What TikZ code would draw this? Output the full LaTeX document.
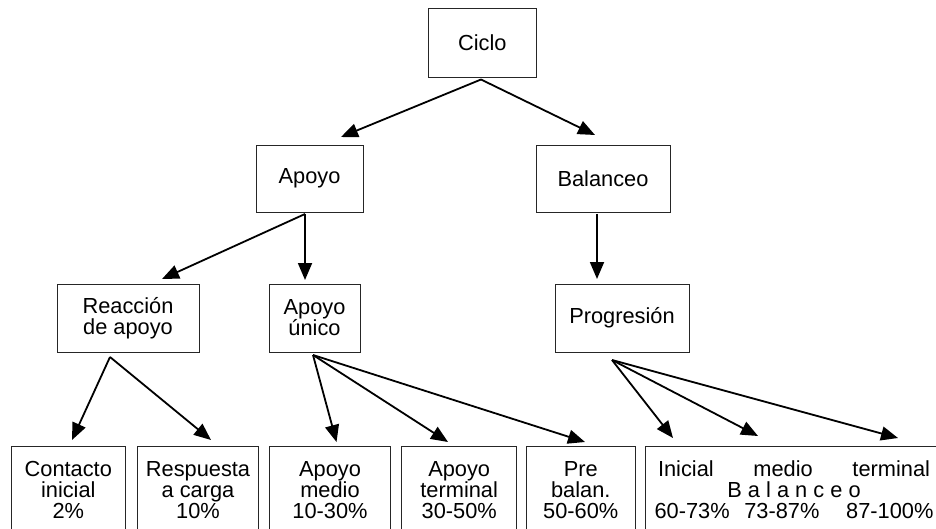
\documentclass[tikz,border=0pt]{standalone}
\usepackage{fontspec}
\setmainfont{Liberation Sans}
\usetikzlibrary{arrows.meta}
\tikzset{
  box/.style={draw=black!85, line width=0.8pt, inner sep=0pt, align=center,
    font=\fontsize{21.8}{21}\selectfont},
  conn/.style={line width=1.8pt, -{Triangle[length=17pt,width=14pt]}},
}
\begin{document}
\begin{tikzpicture}[x=1pt,y=-1pt]
\useasboundingbox (0,0) rectangle (936,529);
% level 0-2
\node[box, minimum width=108pt, minimum height=68.5pt] (ciclo) at (482.3,42.8) {Ciclo};
\node[box, minimum width=107pt, minimum height=67pt] (apoyo) at (309.5,178.5) {Apoyo};
\node[box, minimum width=134pt, minimum height=67pt] (balanceo) at (603,178.5) {Balanceo};
\node[box, minimum width=142pt, minimum height=68pt] (reaccion) at (128,318) {Reacción\\de apoyo};
\node[box, minimum width=91pt, minimum height=68pt] (unico) at (314.5,318) {Apoyo\\único};
\node[box, minimum width=134pt, minimum height=68pt] (progresion) at (622,318) {Progresión};
% bottom row
\node[box, minimum width=113.3pt, minimum height=87pt] (contacto) at (68.3,490) {Contacto\\inicial\\2\%};
\node[box, minimum width=120.6pt, minimum height=87pt] (respuesta) at (198,490) {Respuesta\\a carga\\10\%};
\node[box, minimum width=121.4pt, minimum height=87pt] (medio) at (330,490) {Apoyo\\medio\\10-30\%};
\node[box, minimum width=115pt, minimum height=87pt] (terminal) at (459.2,490) {Apoyo\\terminal\\30-50\%};
\node[box, minimum width=108.3pt, minimum height=87pt] (prebal) at (580.8,490) {Pre\\balan.\\50-60\%};
\node[box, minimum width=298pt, minimum height=87pt] (balfases) at (794,490)
  {\makebox[272pt][s]{Inicial\hfill medio\hfill terminal}\\
   B a l a n c e o\\
   \makebox[279pt][s]{60-73\%\hspace{\stretch{11}}73-87\%\hspace{\stretch{20}}87-100\%}};
% fork points
\coordinate (fciclo) at (481,79.5);
\coordinate (fapoyo) at (305,214);
\coordinate (fbal) at (597,214);
\coordinate (freac) at (110,357);
\coordinate (funico) at (313,355);
\coordinate (fprog) at (612,360);
% arrow tips
\coordinate (tapoyo) at (341,137);
\coordinate (tbal) at (595,135);
\coordinate (treac) at (162,279);
\coordinate (tunico) at (305,280);
\coordinate (tprog) at (597,279);
\coordinate (tcont) at (72,440);
\coordinate (tresp) at (211,440);
\coordinate (tmedio) at (336.5,442);
\coordinate (tterm) at (448,442);
\coordinate (tpre) at (585,442);
\coordinate (tini) at (673,438);
\coordinate (tmed) at (758,436);
\coordinate (tfin) at (898,438);
% connectors
\draw[conn] (fciclo) -- (tapoyo);
\draw[conn] (fciclo) -- (tbal);
\draw[conn] (fapoyo) -- (treac);
\draw[conn] (fapoyo) -- (tunico);
\draw[conn] (fbal) -- (tprog);
\draw[conn] (freac) -- (tcont);
\draw[conn] (freac) -- (tresp);
\draw[conn] (funico) -- (tmedio);
\draw[conn] (funico) -- (tterm);
\draw[conn] (funico) -- (tpre);
\draw[conn] (fprog) -- (tini);
\draw[conn] (fprog) -- (tmed);
\draw[conn] (fprog) -- (tfin);
\end{tikzpicture}
\end{document}
